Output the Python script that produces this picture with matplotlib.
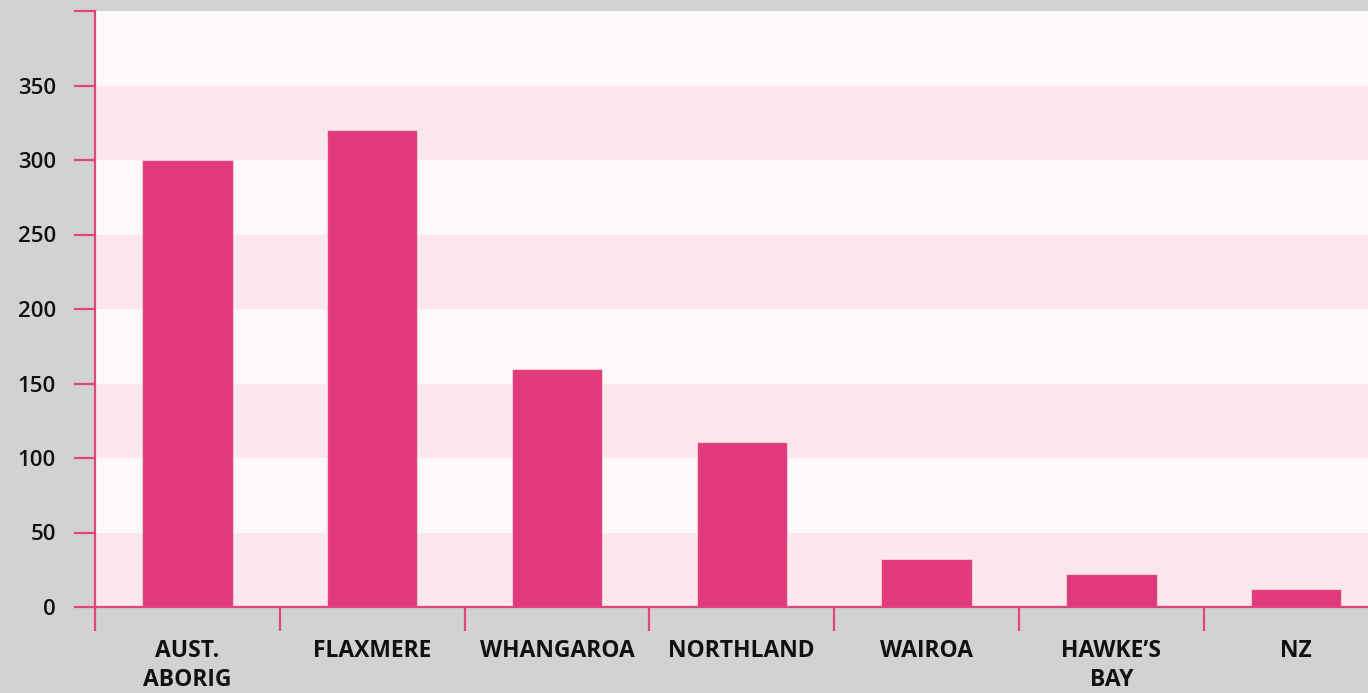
import matplotlib.pyplot as plt
import numpy as np

categories = ['AUST.\nABORIG', 'FLAXMERE', 'WHANGAROA', 'NORTHLAND', 'WAIROA', 'HAWKE\u2019S\nBAY', 'NZ']
values = [300, 320, 160, 111, 32, 22, 12]
yticks = [0, 50, 100, 150, 200, 250, 300, 350, 400]
ylabels = ['0', '50', '100', '150', '200', '250', '300', '350', '']

pink = '#e03a7c'
spine_col = '#e2447f'
grey = '#d2d2d2'

fig = plt.figure(figsize=(13.68, 6.93), dpi=100, facecolor=grey)
ax = fig.add_axes([95 / 1368, (693 - 607) / 693, (7 * 184.8) / 1368, (607 - 11) / 693])
ax.set_facecolor('#fdf8f9')

# alternating horizontal bands
for i, lo in enumerate(yticks[:-1]):
    col = '#fce8ec' if i % 2 == 0 else '#fdf8f9'
    ax.axhspan(lo, lo + 50, color=col, zorder=0, lw=0)

x = np.arange(len(categories))
ax.bar(x, values, width=0.49, color=pink, edgecolor='#f7c9d8', linewidth=0.8, zorder=2)

ax.set_xlim(-0.5, len(categories) - 0.5)
ax.set_ylim(0, 400)

for s in ['top', 'right']:
    ax.spines[s].set_visible(False)
for s in ['left', 'bottom']:
    ax.spines[s].set_color(spine_col)
    ax.spines[s].set_linewidth(1.6)

ax.set_yticks(yticks)
ax.set_yticklabels(ylabels, fontfamily='Open Sans', fontweight='semibold', fontsize=16)
ax.tick_params(axis='y', length=15, width=1.6, color=spine_col, pad=13, labelcolor='#111111')

ax.set_xticks(x)
ax.set_xticklabels(categories, fontfamily='Open Sans', fontweight='bold', fontsize=16.5, linespacing=1.3)
ax.tick_params(axis='x', which='major', length=0, pad=23, labelcolor='#111111')
ax.set_xticks(np.arange(-0.5, len(categories), 1.0), minor=True)
ax.tick_params(axis='x', which='minor', length=17, width=1.6, color=spine_col)

fig.savefig('out.png', dpi=100, facecolor=grey)
